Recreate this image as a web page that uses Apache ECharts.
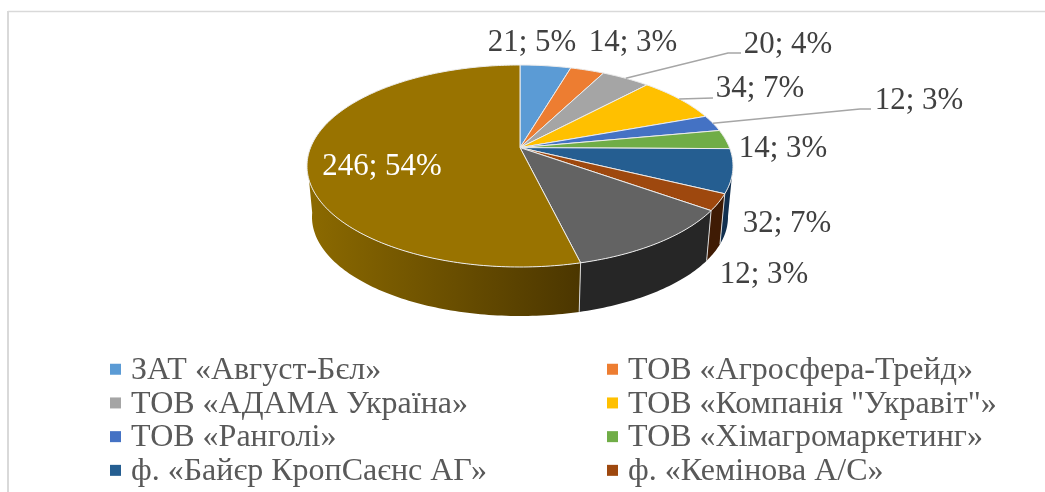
<!DOCTYPE html>
<html>
<head>
<meta charset="utf-8">
<style>html,body{margin:0;padding:0;background:#fff}#chart{width:1045px;height:492px}</style>
<script src="https://cdn.jsdelivr.net/npm/echarts@6/dist/echarts.min.js"></script>
</head>
<body>
<div id="chart"></div>
<script>
// data (the last two legend rows are cut off in the reference)
const names = ['ЗАТ «Август-Бєл»', 'ТОВ «Агросфера-Трейд»', 'ТОВ «АДАМА Україна»', 'ТОВ «Компанія "Укравіт"»',
    'ТОВ «Ранголі»', 'ТОВ «Хімагромаркетинг»', 'ф. «Байєр КропСаєнс АГ»', 'ф. «Кемінова А/С»', 'Інші', 'Інші фірми'];
const values = [21, 14, 20, 34, 12, 14, 32, 12, 52, 246];
const legendLeft = [names[0], names[2], names[4], names[6]];
const legendRight = [names[1], names[3], names[5], names[7]];

const color = ['#5B9BD5', '#ED7D31', '#A5A5A5', '#FFC000', '#4472C4', '#70AD47', '#255E91', '#9E480E', '#636363', '#997300'];
const wallColor = ['#2c4d6b', '#763e18', '#525252', '#7f6000', '#223962', '#385623', '#12304f', '#3f1b04', '#262626',
    ['#8c6a00', '#4b3600']];

// label centre and leader elbow for each slice, null where the reference has none
const labelPos = [[532, 43], [633, 43], [788, 45], [760, 89], [919, 101], [783, 149], [787, 224], [764, 275], null, [382, 167]];
const labelElbow = [null, null, [[728, 53], [741, 53]], [[713, 98]], [[860, 109], [871, 109]], null, null, null, null, null];
const labelFill = ['#404040', '#404040', '#404040', '#404040', '#404040', '#404040', '#404040', '#404040', '#404040', '#fff'];

const total = values.reduce((a, b) => a + b, 0);
const topEllipse = { cx: 520, cy: 166, rx: 213, ry: 101 };
const bottomEllipse = { cx: 520, cy: 217, rx: 208, ry: 99 };
// perspective: the centre of the pie sits above the centre of the ellipse
const shift = 0.182;
// only this part of the rim (degrees, clockwise from top) shows a wall
const wallFrom = 100;
const wallTo = 262;

function startAngle(i) {
    let sum = 0;
    for (let k = 0; k < i; k++) { sum += values[k]; }
    return sum / total * 360;
}

function project(deg, r, e) {
    const a = deg * Math.PI / 180;
    const u = Math.sin(a) * r;
    const v = Math.cos(a) * r;
    const d = 1 + shift * v;
    return [e.cx + e.rx * u * Math.sqrt(1 - shift * shift) / d, e.cy - e.ry * (v + shift) / d];
}

function arc(from, to, e) {
    let pts = [];
    const n = Math.max(2, Math.ceil(to - from));
    for (let k = 0; k <= n; k++) {
        pts.push(project(from + (to - from) * k / n, 1, e));
    }
    return pts;
}

function renderSlice(i) {
    return function(params, api) {
        const from = startAngle(i);
        const to = from + api.value(0) / total * 360;
        let children = [];

        // side wall
        const wFrom = Math.max(from, wallFrom);
        const wTo = Math.min(to, wallTo);
        if (wTo > wFrom) {
            const wc = wallColor[i];
            children.push({
                type: 'polygon',
                z2: 1,
                shape: { points: arc(wFrom, wTo, topEllipse).concat(arc(wFrom, wTo, bottomEllipse).reverse()) },
                style: {
                    fill: Array.isArray(wc) ? {
                        type: 'linear', x: 0, y: 0, x2: 1, y2: 0,
                        colorStops: [{ offset: 0, color: wc[0] }, { offset: 1, color: wc[1] }]
                    } : wc,
                    stroke: null
                }
            });
            if (to <= wallTo) {
                children.push({
                    type: 'line',
                    z2: 2,
                    shape: (function() {
                        const p = project(to, 1, topEllipse);
                        const q = project(to, 1, bottomEllipse);
                        return { x1: p[0], y1: p[1], x2: q[0], y2: q[1] };
                    })(),
                    style: { stroke: '#d9d9d9', lineWidth: 1 }
                });
            }
        }

        // top face
        children.push({
            type: 'polygon',
            z2: 3,
            shape: { points: [project(0, 0, topEllipse)].concat(arc(from, to, topEllipse)) },
            style: { fill: api.visual('color'), stroke: '#ececec', lineWidth: 1, lineJoin: 'round' }
        });

        // leader line
        if (labelElbow[i]) {
            children.push({
                type: 'polyline',
                z2: 4,
                shape: { points: [project((from + to) / 2, 1, topEllipse)].concat(labelElbow[i]) },
                style: { stroke: '#a6a6a6', lineWidth: 1.5, fill: null }
            });
        }

        // data label
        if (labelPos[i]) {
            children.push({
                type: 'text',
                z2: 5,
                style: {
                    text: api.value(0) + '; ' + Math.round(api.value(0) / total * 100) + '%',
                    x: labelPos[i][0],
                    y: labelPos[i][1],
                    fill: labelFill[i],
                    font: '30.9px "Liberation Serif"',
                    align: 'center',
                    verticalAlign: 'middle'
                }
            });
        }
        return { type: 'group', children: children };
    };
}

function buildLegend(data, left) {
    return {
        orient: 'vertical',
        left: left,
        top: 354.5,
        height: 300,
        data: data,
        padding: 0,
        icon: 'rect',
        itemWidth: 11,
        itemHeight: 11,
        itemGap: 1.7,
        itemStyle: { borderWidth: 0 },
        selectedMode: false,
        formatter: '{a|{name}}',
        textStyle: {
            color: '#595959',
            fontFamily: 'Liberation Serif',
            fontSize: 32,
            rich: {
                a: {
                    color: '#595959',
                    fontFamily: 'Liberation Serif',
                    fontSize: 32,
                    padding: [2.5, 0, 0, 5]
                }
            }
        }
    };
}

const chart = echarts.init(document.getElementById('chart'), null, { renderer: 'canvas' });
chart.setOption({
    animation: false,
    backgroundColor: '#fff',
    legend: [buildLegend(legendLeft, 110), buildLegend(legendRight, 607)],
    graphic: [
        { type: 'line', shape: { x1: 8, y1: 11.5, x2: 1045, y2: 11.5 }, style: { stroke: '#d9d9d9', lineWidth: 1.5 } },
        { type: 'line', shape: { x1: 8, y1: 11, x2: 8, y2: 492 }, style: { stroke: '#d9d9d9', lineWidth: 2 } }
    ],
    series: values.map(function(v, i) {
        return {
            type: 'custom',
            name: names[i],
            coordinateSystem: 'none',
            itemStyle: { color: color[i] },
            renderItem: renderSlice(i),
            silent: true,
            data: [[v]]
        };
    })
});
</script>
</body>
</html>
